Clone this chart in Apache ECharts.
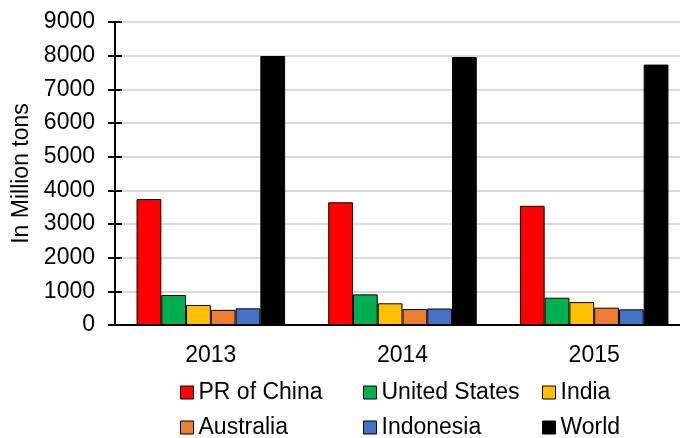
<!DOCTYPE html>
<html>
<head>
<meta charset="utf-8">
<style>
  html, body { margin: 0; padding: 0; background: #ffffff; }
  #chart { width: 680px; height: 438px; }
</style>
<script src="https://cdn.jsdelivr.net/npm/echarts@6/dist/echarts.min.js"></script>
</head>
<body>
<div id="chart"></div>
<script>
// Coal production by country, in million tons
const years = ['2013', '2014', '2015'];
const china = [3740, 3645, 3540];
const unitedStates = [890, 910, 810];
const india = [595, 645, 680];
const australia = [450, 475, 515];
const indonesia = [495, 490, 465];
const world = [7990, 7960, 7735];

const yTicks = { min: 0, max: 9000, interval: 1000 };

const seriesDefs = [
  { name: 'PR of China', data: china, color: '#ff0000' },
  { name: 'United States', data: unitedStates, color: '#00b050' },
  { name: 'India', data: india, color: '#ffc000' },
  { name: 'Australia', data: australia, color: '#ed7d31' },
  { name: 'Indonesia', data: indonesia, color: '#4472c4' },
  { name: 'World', data: world, color: '#000000' }
];

const FONT = 'Liberation Sans, Arial, sans-serif';
const FS = 23;

// legend laid out as a 3x2 table of single-item legends
const legendCols = [180, 363, 542];
const legendRows = [381, 416];
const legends = seriesDefs.map((s, i) => ({
  data: [s.name],
  left: legendCols[i % 3],
  top: legendRows[Math.floor(i / 3)],
  padding: 0,
  icon: 'rect',
  itemWidth: 13,
  itemHeight: 13,
  itemStyle: { borderColor: '#000', borderWidth: 1 },
  textStyle: { fontFamily: FONT, fontSize: FS, color: '#000' },
  selectedMode: false
}));

// plot area runs a little past the right edge of the canvas
const plot = { left: 115, top: 22, width: 575, height: 303 };

const barSeries = seriesDefs.map(s => ({
  name: s.name,
  type: 'bar',
  data: s.data,
  xAxisIndex: 0,
  yAxisIndex: 0,
  barGap: '0%',
  barCategoryGap: '22.5%',
  itemStyle: { color: s.color, borderColor: '#000', borderWidth: 1 },
  emphasis: { disabled: true }
}));

// empty helper series so the inner-tick axis is laid out and drawn
const tickHolder = {
  name: '_ticks',
  type: 'line',
  data: [],
  xAxisIndex: 0,
  yAxisIndex: 1,
  silent: true,
  showSymbol: false
};

const chart = echarts.init(document.getElementById('chart'), null, { renderer: 'canvas' });
chart.setOption({
  animation: false,
  backgroundColor: '#ffffff',
  grid: {
    left: plot.left, top: plot.top, width: plot.width, height: plot.height,
    containLabel: false,
    outerBoundsMode: 'none'
  },
  legend: legends,
  xAxis: [
    {
      type: 'category',
      data: years,
      z: 4,
      axisLine: { show: true, lineStyle: { color: '#000', width: 2 } },
      axisTick: { show: false },
      axisLabel: { fontFamily: FONT, fontSize: FS, color: '#000', margin: 19 }
    },
    {
      type: 'category',
      position: 'top',
      data: years,
      z: 4,
      axisLine: { show: true, lineStyle: { color: '#000', width: 2 } },
      axisTick: { show: false },
      axisLabel: { show: false }
    }
  ],
  yAxis: [
    {
      type: 'value',
      min: yTicks.min,
      max: yTicks.max,
      interval: yTicks.interval,
      z: 0,
      name: 'In Million tons',
      nameLocation: 'middle',
      nameGap: 77,
      nameTextStyle: { fontFamily: FONT, fontSize: FS, color: '#000' },
      axisLine: { show: true, lineStyle: { color: '#000', width: 2 } },
      axisTick: { show: true, inside: false, length: 7, lineStyle: { color: '#000', width: 2 } },
      axisLabel: {
        fontFamily: FONT, fontSize: FS, color: '#000', margin: 20,
        formatter: v => String(v)
      },
      splitLine: { show: true, lineStyle: { color: '#d9d9d9', width: 2 } }
    },
    {
      // right-side axis pulled back onto the left edge: its outward ticks
      // point into the plot, completing the crossing tick marks
      type: 'value',
      min: yTicks.min,
      max: yTicks.max,
      interval: yTicks.interval,
      position: 'right',
      offset: -plot.width,
      z: 5,
      axisLine: { show: false },
      axisTick: { show: true, inside: false, length: 7, lineStyle: { color: '#000', width: 2 } },
      axisLabel: { show: false },
      splitLine: { show: false }
    }
  ],
  series: barSeries.concat([tickHolder])
});
</script>
</body>
</html>
